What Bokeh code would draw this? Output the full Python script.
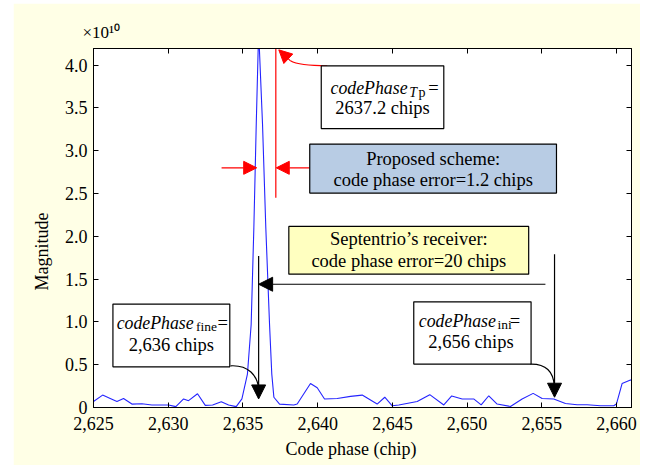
from bokeh.plotting import figure
from bokeh.models import (Range1d, FixedTicker, LinearAxis, CustomJSTickFormatter,
                          Label, BoxAnnotation, Arrow, NormalHead, Spacer, Title)
from bokeh.layouts import column, row
from bokeh.embed import file_html
from bokeh.resources import INLINE

# ---------------- data ----------------
code_phase = [2625.00, 2625.61, 2626.12, 2626.57, 2627.01, 2627.57, 2628.24, 2628.91,
              2630.02, 2630.51, 2631.03, 2631.36, 2631.96, 2632.48, 2632.97, 2633.55,
              2634.04, 2634.55, 2634.93, 2635.30, 2635.55, 2635.73, 2635.89, 2636.05,
              2636.31, 2636.53, 2636.78, 2636.93, 2637.07, 2637.45, 2638.40, 2638.63,
              2639.52, 2639.97, 2640.46, 2641.31, 2642.20, 2642.98, 2643.98, 2644.49,
              2644.99, 2645.43, 2646.66, 2647.50, 2648.44, 2648.97, 2649.67, 2650.44,
              2650.94, 2651.45, 2652.01, 2652.90, 2653.68, 2654.42, 2655.02, 2655.80,
              2656.58, 2657.36, 2658.03, 2658.92, 2659.81, 2659.99, 2660.37, 2660.93,
              2661.20]
magnitude = [0.07, 0.145, 0.105, 0.07, 0.105, 0.04, 0.043, 0.03,
             0.03, 0.01, 0.10, 0.08, 0.16, 0.025, 0.03, 0.067,
             0.03, 0.01, 0.10, 0.39, 0.97, 2.10, 3.31, 4.40,
             3.31, 2.10, 0.97, 0.39, 0.12, 0.04, 0.03, 0.04,
             0.28, 0.23, 0.10, 0.105, 0.13, 0.145, 0.04, 0.12,
             0.02, 0.03, 0.07, 0.15, 0.03, 0.135, 0.10, 0.10,
             0.03, 0.137, 0.04, 0.012, 0.10, 0.165, 0.105, 0.10,
             0.047, 0.032, 0.032, 0.02, 0.02, 0.04, 0.28, 0.32,
             0.33]

x_ticks = [2625, 2630, 2635, 2640, 2645, 2650, 2655, 2660]
x_tick_labels = ["2,625", "2,630", "2,635", "2,640", "2,645", "2,650", "2,655", "2,660"]
y_ticks = [0, 0.5, 1.0, 1.5, 2.0, 2.5, 3.0, 3.5, 4.0]
y_tick_labels = ["0", "0.5", "1.0", "1.5", "2.0", "2.5", "3.0", "3.5", "4.0"]

code_phase_fine = 2636.05   # arrow position (2,636 chips)
code_phase_ini = 2655.85    # arrow position (2,656 chips)
code_phase_tp = 2637.2

FONT = "Liberation Serif"
BG = "#FFFFE6"

# ---------------- figure ----------------
p = figure(width=627, height=462, x_range=Range1d(2625, 2661), y_range=Range1d(0, 4.194),
           output_backend="svg", toolbar_location=None, title="×10¹⁰",
           min_border_left=80, min_border_right=9, min_border_top=45, min_border_bottom=58,
           background_fill_color="white", border_fill_color=BG,
           outline_line_color="black", outline_line_width=1)
p.xgrid.visible = False
p.ygrid.visible = False
p.title.text_font = FONT
p.title.text_font_size = "17px"
p.title.text_font_style = "normal"
p.title.text_color = "black"
p.title.align = "left"
p.title.offset = -11
p.title.standoff = 13

xa = p.xaxis[0]
xa.ticker = FixedTicker(ticks=x_ticks)
xa.formatter = CustomJSTickFormatter(code="return tick.toLocaleString('en-US')")
xa.major_label_overrides = dict(zip(x_ticks, x_tick_labels))
ya = p.yaxis[0]
ya.ticker = FixedTicker(ticks=y_ticks)
ya.formatter = CustomJSTickFormatter(code="return tick == 0 ? '0' : tick.toFixed(1)")
ya.major_label_overrides = dict(zip(y_ticks, y_tick_labels))

for ax in (xa, ya):
    ax.major_tick_in = 5
    ax.major_tick_out = 0
    ax.minor_tick_line_color = None
    ax.axis_line_color = "black"
    ax.major_tick_line_color = "black"
    ax.major_label_text_font = FONT
    ax.major_label_text_font_size = "18px"
    ax.major_label_text_color = "black"
xa.major_label_standoff = 9
ya.major_label_standoff = 6

empty = CustomJSTickFormatter(code="return ''")
top_ax = LinearAxis(ticker=FixedTicker(ticks=x_ticks), formatter=empty,
                    major_tick_in=5, major_tick_out=0, minor_tick_line_color=None,
                    major_label_standoff=0, major_label_text_font_size="1px",
                    axis_line_color="black")
right_ax = LinearAxis(ticker=FixedTicker(ticks=y_ticks), formatter=empty,
                      major_tick_in=5, major_tick_out=0, minor_tick_line_color=None,
                      major_label_standoff=0, major_label_text_font_size="1px",
                      axis_line_color="black")
p.add_layout(top_ax, "above")
p.add_layout(right_ax, "right")

# axis titles (outside the frame)
p.add_layout(Title(text="Magnitude", align="left", offset=117, standoff=19,
                   text_font=FONT, text_font_size="18px", text_font_style="normal",
                   text_color="black"), "left")
p.add_layout(Title(text="Code phase (chip)", align="left", offset=192, standoff=8,
                   text_font=FONT, text_font_size="18px", text_font_style="normal",
                   text_color="black"), "below")

# ---------------- curve ----------------
p.line(code_phase, magnitude, line_color="#2424ff", line_width=1.1)

DY = 0.062  # baseline correction


def lab(x, y, text, size="18.5px", style="normal", align="left"):
    p.add_layout(Label(x=x, y=y + DY, text=text, text_font=FONT, text_font_size=size,
                       text_font_style=style, text_align=align, text_baseline="alphabetic",
                       text_color="black"))


# ---------------- red: proposed scheme ----------------
p.segment(x0=[code_phase_tp], y0=[4.194], x1=[code_phase_tp], y1=[2.45],
          line_color="red", line_width=1.2)
red_head = dict(size=13, fill_color="red", line_color="red")
p.add_layout(Arrow(end=NormalHead(**red_head), x_start=2633.57, y_start=2.80,
                   x_end=2635.92, y_end=2.80, line_color="red", line_width=1.2))
p.add_layout(Arrow(end=NormalHead(**red_head), x_start=2639.47, y_start=2.80,
                   x_end=code_phase_tp + 0.03, y_end=2.80, line_color="red", line_width=1.2))
p.bezier(x0=[2640.64], y0=[3.992], x1=[2638.18], y1=[4.050],
         cx0=[2639.19], cy0=[3.992], cx1=[2638.52], cy1=[4.015],
         line_color="red", line_width=1.2)
p.add_layout(Arrow(end=NormalHead(**red_head), x_start=2638.18, y_start=4.050,
                   x_end=2637.40, y_end=4.178, line_color="red", line_width=1.2))

# ---------------- black arrows ----------------
blk_head = dict(size=14, fill_color="black", line_color="black")
p.add_layout(Arrow(end=NormalHead(**blk_head), x_start=code_phase_fine, y_start=1.77,
                   x_end=code_phase_fine, y_end=0.10, line_color="black", line_width=1.2))
p.add_layout(Arrow(end=NormalHead(**blk_head), x_start=code_phase_ini, y_start=1.79,
                   x_end=code_phase_ini, y_end=0.12, line_color="black", line_width=1.2))
p.add_layout(Arrow(end=NormalHead(**blk_head), x_start=2655.24, y_start=1.44,
                   x_end=code_phase_fine, y_end=1.44, line_color="black", line_width=1.2))
p.bezier(x0=[2634.17], y0=[0.487], x1=[2636.05], y1=[0.218],
         cx0=[2635.37], cy0=[0.499], cx1=[2635.98], cy1=[0.370],
         line_color="black", line_width=1.2)
p.bezier(x0=[2654.24], y0=[0.507], x1=[2655.83], y1=[0.254],
         cx0=[2655.31], cy0=[0.511], cx1=[2655.78], cy1=[0.405],
         line_color="black", line_width=1.2)


# ---------------- boxes ----------------
def box(l, r, t, b, fill):
    p.add_layout(BoxAnnotation(left=l, right=r, top=t, bottom=b, fill_color=fill, fill_alpha=1,
                               line_color="black", line_width=1.2, line_alpha=1))


box(2640.24, 2648.44, 3.992, 3.259, "white")
lab(2640.86, 3.673, "codePhase", size="17.8px", style="italic")
lab(2646.12, 3.621, "T", size="14px", style="italic")
lab(2646.75, 3.621, "p", size="14px")
lab(2647.40, 3.673, "=")
lab(2644.34, 3.435, "2637.2 chips", align="center")

box(2639.47, 2655.98, 3.077, 2.505, "#B8CCE4")
lab(2647.73, 2.843, "Proposed scheme:", align="center")
lab(2647.73, 2.590, "code phase error=1.2 chips", align="center")

box(2638.07, 2654.12, 2.115, 1.558, "#FFFFC0")
lab(2646.10, 1.909, "Septentrio’s receiver:", align="center")
lab(2646.10, 1.655, "code phase error=20 chips", align="center")

box(2626.30, 2634.12, 1.208, 0.475, "white")
lab(2626.55, 0.923, "codePhase", size="17.8px", style="italic")
lab(2631.86, 0.884, "fine", size="13.5px")
lab(2633.30, 0.923, "=")
lab(2630.21, 0.671, "2,636 chips", align="center")

box(2646.43, 2654.28, 1.235, 0.507, "white")
lab(2646.77, 0.946, "codePhase", size="17.8px", style="italic")
lab(2652.03, 0.911, "ini", size="13.5px")
lab(2652.85, 0.946, "=")
lab(2650.26, 0.701, "2,656 chips", align="center")

layout = column(Spacer(height=3), row(Spacer(width=13), p))
open("out.html", "w").write(file_html(layout, INLINE))
